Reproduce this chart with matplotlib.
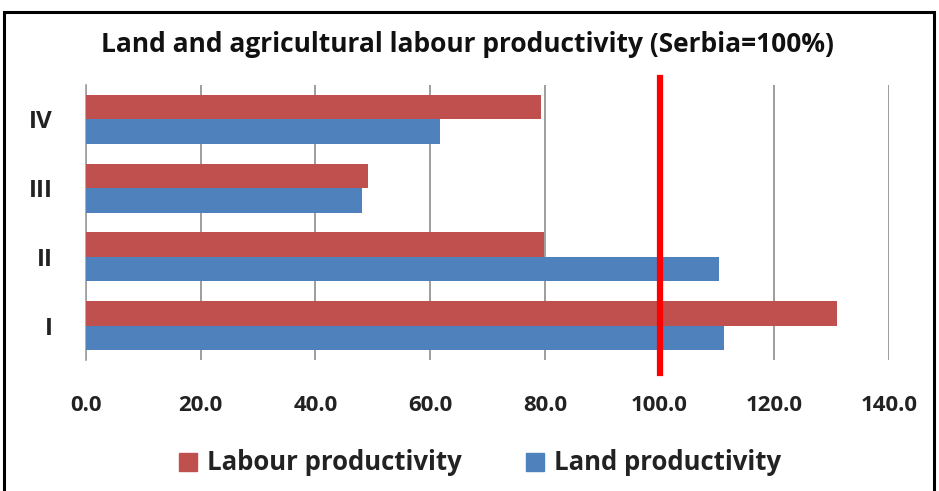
import matplotlib.pyplot as plt
import matplotlib.patches as mpatches
import numpy as np

categories = ["I", "II", "III", "IV"]
labour = [131.0, 79.8, 49.2, 79.3]
land = [111.3, 110.3, 48.1, 61.7]
xticks = [0, 20, 40, 60, 80, 100, 120, 140]
reference = 100

RED = "#C0504D"
BLUE = "#4F81BD"

plt.rcParams["font.family"] = ["Open Sans", "DejaVu Sans"]

fig = plt.figure(figsize=(9.39, 4.91), dpi=100)
ax = fig.add_axes([86 / 939, 1 - 360 / 491, 803 / 939, 275 / 491])

y = np.arange(len(categories))
h = 0.355
ax.barh(y + h / 2, labour, height=h, color=RED, label="Labour productivity", zorder=3)
ax.barh(y - h / 2, land, height=h, color=BLUE, label="Land productivity", zorder=3)

# Serbia = 100% reference line, runs a bit past the plot area
ax.axvline(reference, ymin=-0.047, ymax=1.025, color="#FF0000", lw=4.5, zorder=5, clip_on=False)

ax.set_xlim(0, 140)
ax.set_ylim(-0.5, 3.5)
ax.set_xticks(xticks)
ax.set_xticklabels([f"{v:.1f}" for v in xticks], fontsize=16, fontweight="bold", color="#222222")
ax.set_yticks(y)
ax.set_yticklabels(categories, fontsize=17.5, fontweight="bold", color="#222222")
ax.tick_params(axis="x", length=0, pad=25)
ax.tick_params(axis="y", length=0, pad=24)
ax.grid(axis="x", color="#8c8c8c", lw=1.2, zorder=0)
for s in ["top", "right", "bottom"]:
    ax.spines[s].set_visible(False)
ax.spines["left"].set_color("#a0a0a0")
ax.spines["left"].set_linewidth(1.2)

fig.text(467 / 939, 1 - 45 / 491, "Land and agricultural labour productivity (Serbia=100%)",
         ha="center", va="center", fontsize=19, fontweight="bold", color="#111111")

handles = [mpatches.Patch(color=RED, label="Labour productivity"),
           mpatches.Patch(color=BLUE, label="Land productivity")]
leg = fig.legend(handles=handles, loc="center", bbox_to_anchor=(480 / 939, 1 - 463 / 491),
                 ncol=2, frameon=False, handlelength=0.7, handleheight=0.7,
                 handletextpad=0.4, columnspacing=2.5,
                 prop={"size": 18.5, "weight": "bold"})
for t in leg.get_texts():
    t.set_color("#222222")

border = mpatches.Rectangle((4 / 939, -0.1), 930 / 939, 1.1 - 12 / 491,
                            transform=fig.transFigure, fill=False,
                            edgecolor="black", lw=2.2)
fig.patches.append(border)

fig.savefig("out.png", dpi=100)
